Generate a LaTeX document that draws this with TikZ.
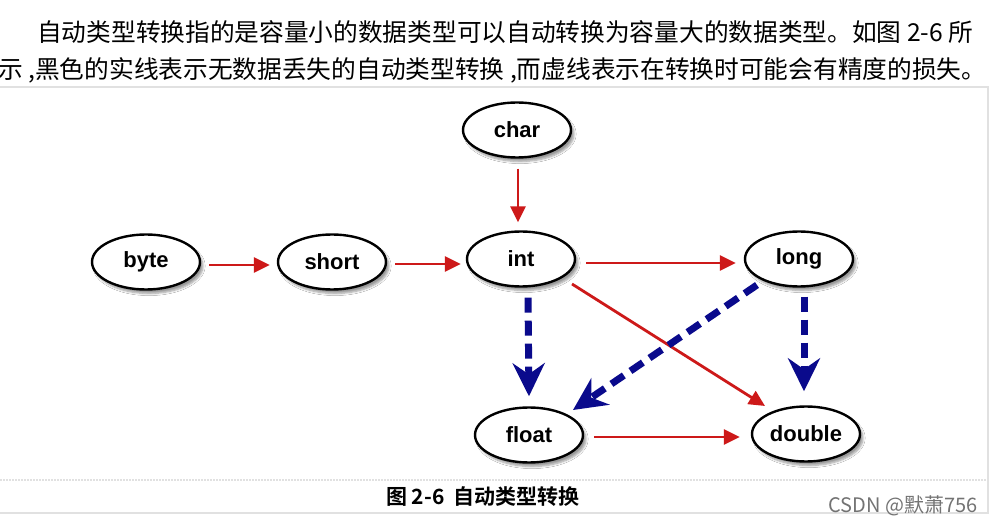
\documentclass[tikz,border=0pt]{standalone}
\usepackage{fontspec}
\setmainfont{Liberation Sans}
\newfontfamily\cjk{Noto Sans CJK SC}
\newfontfamily\cjkbold[BoldFont={* Bold}]{Noto Sans CJK SC}
\usetikzlibrary{arrows.meta,shapes.geometric,shadows.blur}
\definecolor{redline}{RGB}{205,25,25}
\definecolor{navy}{RGB}{10,10,140}
\definecolor{framegray}{RGB}{225,225,225}
\tikzset{
  typenode/.style={ellipse,draw=black,line width=2.4pt,fill=white,
    minimum width=108pt,minimum height=55pt,inner sep=0pt,
    font=\fontsize{22}{22}\selectfont\bfseries,
    blur shadow={shadow xshift=3pt,shadow yshift=-4pt,shadow blur steps=6,shadow opacity=40}},
  solidarrow/.style={draw=redline,line width=2.8pt,-{Triangle[length=16pt,width=15pt]}},
  dasharrow/.style={draw=navy,line width=7pt,dash pattern=on 15pt off 8pt,
    -{Stealth[length=33pt,width=32pt,inset=11pt]}},
  bodytext/.style={font=\cjk\fontsize{24.7}{24.7}\selectfont,inner sep=0pt,anchor=west}
}
\begin{document}
\begin{tikzpicture}[x=1pt,y=-1pt]
\useasboundingbox (0,0) rectangle (994,529);
\fill[white] (0,0) rectangle (994,529);
% frame
\draw[framegray,line width=1.5pt] (0,87) -- (988,87) -- (988,513) -- (0,513);
\draw[framegray,line width=1.2pt,dash pattern=on 2pt off 1pt] (0,480) -- (988,480);
% body text
\node[bodytext] (line1) at (37,32) {自动类型转换指的是容量小的数据类型可以自动转换为容量大的数据类型。如图 2-6 所};
\node[bodytext] (line2) at (-2,70) {示 ,黑色的实线表示无数据丢失的自动类型转换 ,而虚线表示在转换时可能会有精度的损失。};
% nodes
\node[typenode] (char) at (517,130) {char};
\node[typenode] (byte) at (146,262) {byte};
\node[typenode] (short) at (332,262) {short};
\node[typenode] (int) at (521,259) {int};
\node[typenode] (long) at (799,259) {long};
\node[typenode] (float) at (529,435) {float};
\node[typenode] (double) at (806,434) {double};
% red arrows
\draw[solidarrow] ([xshift=8pt,yshift=-3pt]byte.east) -- ([xshift=-7pt,yshift=-3pt]short.west);
\draw[solidarrow] ([xshift=8pt,yshift=-2pt]short.east) -- ([xshift=-5pt,yshift=-5pt]int.west);
\draw[solidarrow] ([xshift=1pt,yshift=-10pt]char.south) -- ([xshift=-3pt,yshift=8pt]int.north);
\draw[solidarrow] ([xshift=10pt,yshift=-4pt]int.east) -- ([xshift=-8pt,yshift=-4pt]long.west);
\draw[solidarrow] ([xshift=51pt,yshift=-25pt]int.center) -- ([xshift=-41pt,yshift=28pt]double.center);
\draw[solidarrow] ([xshift=10pt,yshift=-2pt]float.east) -- ([xshift=-11pt,yshift=-3pt]double.west);
% blue dashed arrows
\draw[dasharrow] ([xshift=7pt,yshift=-10pt]int.south) -- ([yshift=10pt]float.north);
\draw[dasharrow] ([xshift=-42pt,yshift=-26pt]long.center) -- ([xshift=44pt,yshift=25pt]float.center);
\draw[dasharrow] ([xshift=5pt,yshift=-9pt]long.south) -- ([xshift=-2pt,yshift=14pt]double.north);
% caption
\node[font=\cjkbold\bfseries\fontsize{21}{21}\selectfont,inner sep=0pt] (caption) at (483,497) {图 2-6\ \ 自动类型转换};
\node[font=\cjk\fontsize{20}{20}\selectfont,text=black!55,inner sep=0pt,anchor=east] (mark) at (978,506) {CSDN @默萧756};
\end{tikzpicture}
\end{document}
